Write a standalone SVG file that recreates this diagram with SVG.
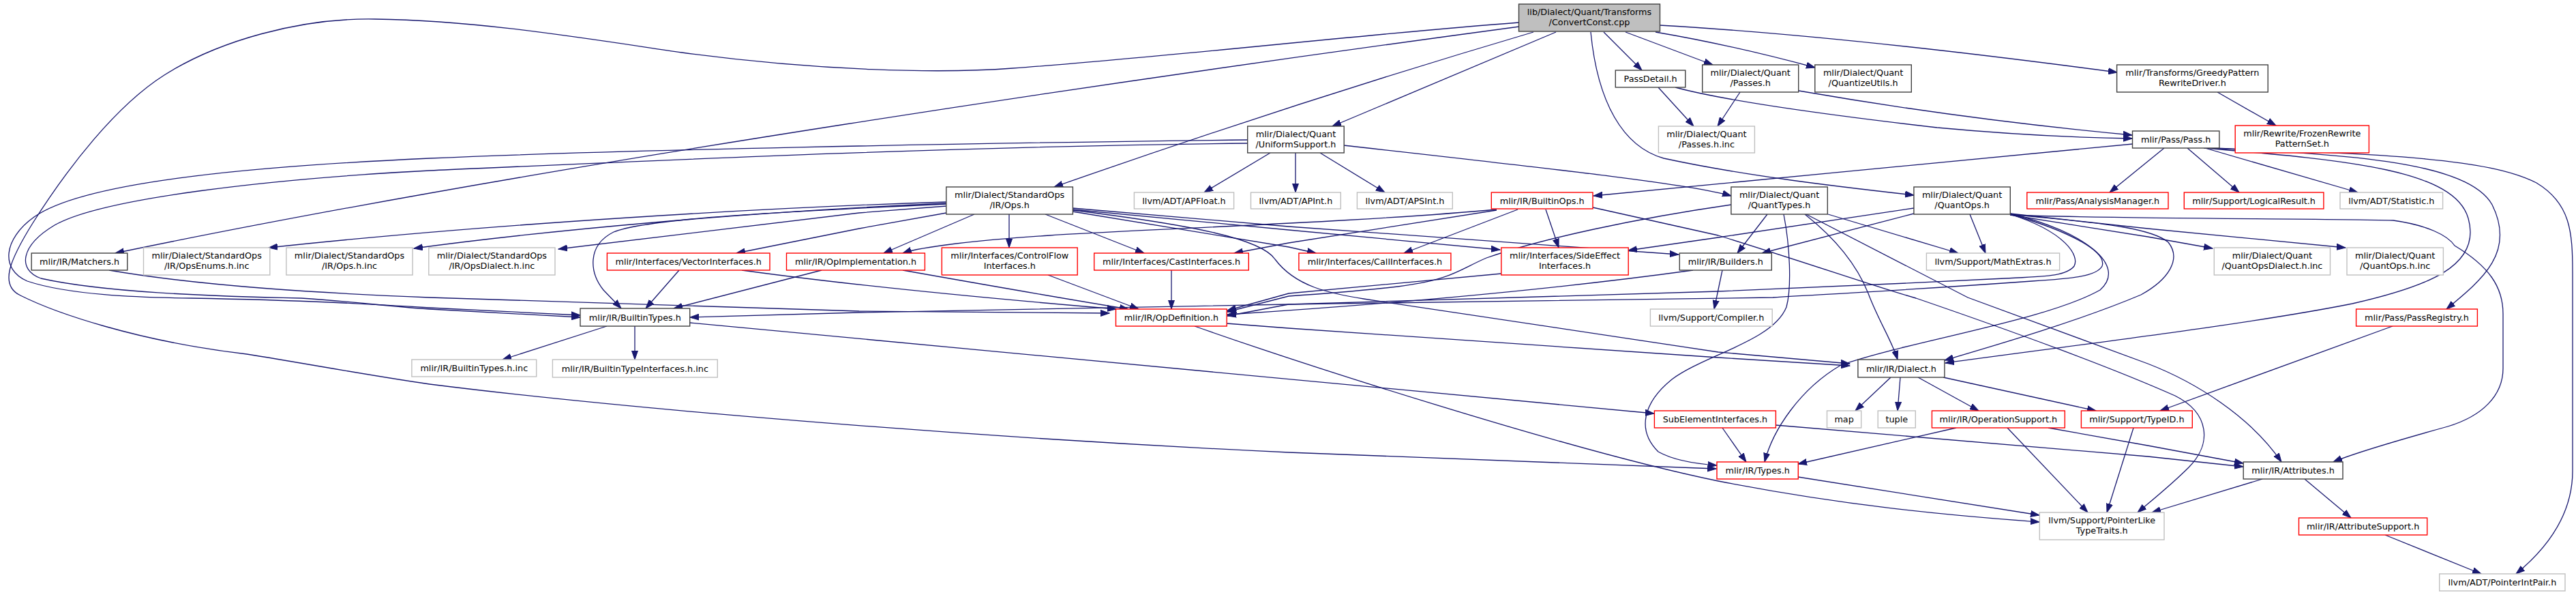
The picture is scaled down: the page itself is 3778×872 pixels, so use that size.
<svg xmlns="http://www.w3.org/2000/svg" width="3778" height="872" viewBox="0 0 3778 872">
<defs>
<marker id="a" markerUnits="userSpaceOnUse" markerWidth="14" markerHeight="10" refX="13" refY="5" orient="auto">
<path d="M0,0.5 L13,5 L0,9.5 z" fill="#191970" stroke="#191970" stroke-width="1"/>
</marker>
<style>
.n rect{fill:#ffffff;stroke-width:1.4}
.doc rect{stroke:#404040}
.und rect{stroke:#bfbfbf}
.trn rect{stroke:#ff0000}
.root rect{fill:#bfbfbf;stroke:#404040}
.n text{font-family:"DejaVu Sans","Liberation Sans",sans-serif;font-size:12.8px;fill:#000000;text-anchor:middle}
#edges path{fill:none;stroke:#191970;stroke-width:1.3;marker-end:url(#a)}
</style>
</defs>
<rect width="3778" height="872" fill="#ffffff"/>
<g id="edges">
<path d="M2228,39 C1700,110 800,240 169,371"/>
<path d="M2228,33 C2000,50 1700,85 1485,100 C1380,108 1200,104 1000,77 C850,55 700,30 550,28 C440,26 320,60 241,110 C170,155 100,245 48,327 C15,380 -2,418 30,433 C80,458 200,500 362,519 C450,533 540,550 630,563 C900,597 1400,640 1890,663 L2517,687"/>
<path d="M2249,47 Q1900,150 1546,274"/>
<path d="M2282,47 L1954,185"/>
<path d="M2333,47 C2343,150 2380,215 2440,232 C2560,258 2700,274 2807,286"/>
<path d="M2352,47 L2408,103"/>
<path d="M2384,47 L2512,95"/>
<path d="M2428,47 Q2540,66 2662,99"/>
<path d="M2434,37 Q2700,52 3105,106"/>
<path d="M2552,135 L2519,185"/>
<path d="M2638,133 Q2880,175 3127,198"/>
<path d="M2432,128 L2484,185"/>
<path d="M2457,128 C2520,145 2650,165 2841,187 C2960,198 3060,202 3127,203"/>
<path d="M3252,135 L3338,184"/>
<path d="M3128,211 L2337,287"/>
<path d="M3174,217 L3094,282"/>
<path d="M3208,217 L3284,282"/>
<path d="M3234,217 L3458,282"/>
<path d="M3232,217 C3450,235 3600,250 3620,320 C3640,390 3560,420 3450,445 C3300,475 3050,505 2853,532"/>
<path d="M3238,217 C3450,226 3620,238 3655,300 C3690,370 3640,410 3588,453"/>
<path d="M3242,217 C3500,226 3650,232 3720,268 C3770,298 3773,340 3773,400 L3773,690 C3773,750 3740,800 3690,841"/>
<path d="M1863,224 L1766,282"/>
<path d="M1900,224 L1900,282"/>
<path d="M1936,224 L2031,282"/>
<path d="M1971,213 C2300,250 2480,270 2539,287"/>
<path d="M1830,205 C1400,210 900,220 630,232 C350,245 120,268 50,318 C5,350 0,395 40,412 C100,432 200,436 281,437 C450,440 550,446 630,451 L851,462"/>
<path d="M1830,210 C1400,214 900,238 630,250 C400,262 150,290 80,330 C30,360 25,395 60,408 C150,428 300,434 442,437 C520,442 580,450 630,453 L851,465"/>
<path d="M160,396 C300,420 480,430 630,436 C900,444 1100,452 1260,456 L1627,459"/>
<path d="M1388,296 C1100,305 700,330 394,363"/>
<path d="M1388,298 C1100,310 800,338 607,364"/>
<path d="M1388,302 L1260,312 L819,365"/>
<path d="M1388,312 L1260,335 L1080,371"/>
<path d="M1388,299 C1150,310 950,320 900,340 C860,360 865,400 885,425 L911,452"/>
<path d="M1429,314 L1296,371"/>
<path d="M1480,314 L1480,363"/>
<path d="M1533,314 L1678,371"/>
<path d="M1573,305 L1890,332 L2462,373"/>
<path d="M1573,307 L1890,337 L2200,366"/>
<path d="M1573,310 L1890,362 L1930,371"/>
<path d="M1573,308 C1750,330 1850,350 1870,380 C1900,420 1950,430 2000,438 L2520,516 L2713,533"/>
<path d="M2195,307 C2000,325 1700,335 1540,345 C1430,352 1350,362 1324,371"/>
<path d="M2195,308 L1890,356 L1810,371"/>
<path d="M2226,307 L2059,371"/>
<path d="M2267,307 L2286,363"/>
<path d="M2336,304 L2520,345 C2650,385 2750,420 2810,437 C2950,485 3100,540 3190,580 C3240,605 3245,650 3210,685 C3185,710 3160,730 3135,751"/>
<path d="M2807,305 L2520,348 L2388,367"/>
<path d="M2807,313 L2584,371"/>
<path d="M2592,314 L2548,371"/>
<path d="M2681,314 L2872,371"/>
<path d="M2889,314 L2912,371"/>
<path d="M2647,314 C2680,340 2720,380 2740,430 C2755,470 2775,500 2783,527"/>
<path d="M2649,314 L2886,436 L3150,533 C3220,560 3300,610 3346,677"/>
<path d="M2616,314 C2625,360 2628,420 2620,450 C2600,500 2500,520 2452,556 C2410,590 2400,630 2432,662 C2455,675 2490,680 2518,682"/>
<path d="M2539,300 C2400,320 2260,350 2180,378 C2140,395 2130,410 2050,420 C1980,428 1920,432 1890,434 L1800,457"/>
<path d="M2948,313 L3150,335 L3440,363"/>
<path d="M2948,315 L3150,347 L3245,364"/>
<path d="M2948,315 C3100,321 3400,320 3510,323 C3560,330 3590,345 3600,360 C3650,390 3671,420 3671,460 L3671,540 C3671,580 3640,610 3590,625 C3500,650 3450,665 3422,677"/>
<path d="M2948,314 C3050,325 3150,330 3180,355 C3200,380 3180,410 3140,432 C3050,470 2930,505 2852,528"/>
<path d="M2948,313 C3060,340 3120,390 3080,425 C3000,470 2800,500 2700,535 C2640,570 2600,630 2588,677"/>
<path d="M2948,314 C3040,340 3090,370 3083,390 C3075,405 3040,408 2980,412 C2800,425 2700,430 2600,436 L1890,446 L1260,458 L1012,465"/>
<path d="M2948,314 C3030,340 3050,375 3042,390 C3030,405 3000,405 2940,408 C2800,415 2650,422 2520,427 L1890,446 L1800,463"/>
<path d="M2202,401 L1890,430 L1800,455"/>
<path d="M2483,396 Q2200,435 1800,461"/>
<path d="M2526,396 L2514,453"/>
<path d="M996,396 L947,452"/>
<path d="M1205,396 L988,452"/>
<path d="M1324,396 Q1550,436 1655,453"/>
<path d="M1088,396 Q1300,425 1637,453"/>
<path d="M1537,403 L1670,453"/>
<path d="M1718,396 L1718,453"/>
<path d="M890,478 L737,527"/>
<path d="M931,478 L931,527"/>
<path d="M1012,473 L2426,606"/>
<path d="M1799,474 L1890,481 L2520,524 L2713,536"/>
<path d="M1752,478 C1900,530 2300,660 2520,705 C2700,740 2850,755 2991,765"/>
<path d="M2773,553 L2721,602"/>
<path d="M2787,553 L2783,602"/>
<path d="M2813,553 L2902,602"/>
<path d="M2850,553 L3074,602"/>
<path d="M2526,627 L2561,677"/>
<path d="M2604,623 L3150,669 L3290,684"/>
<path d="M2869,627 L2637,680"/>
<path d="M2944,627 L3062,751"/>
<path d="M3004,627 L3150,653 L3290,679"/>
<path d="M3129,627 L3090,751"/>
<path d="M3509,478 L3168,602"/>
<path d="M2637,699 L2991,755"/>
<path d="M3318,702 L3156,751"/>
<path d="M3380,702 L3448,759"/>
<path d="M3498,784 L3639,841"/>
</g>
<g id="root" class="n root"><rect x="2227.5" y="6" width="207" height="40"/><text x="2331" y="22">lib/Dialect/Quant/Transforms</text><text x="2331" y="36.5">/ConvertConst.cpp</text></g>
<g id="passdetail" class="n doc"><rect x="2369.3" y="103" width="102.5" height="25"/><text x="2420.6" y="120">PassDetail.h</text></g>
<g id="passes" class="n doc"><rect x="2496.7" y="95" width="141" height="40"/><text x="2567.2" y="111">mlir/Dialect/Quant</text><text x="2567.2" y="125.5">/Passes.h</text></g>
<g id="quantizeutils" class="n doc"><rect x="2661.8" y="95" width="141.5" height="40"/><text x="2732.6" y="111">mlir/Dialect/Quant</text><text x="2732.6" y="125.5">/QuantizeUtils.h</text></g>
<g id="greedy" class="n doc"><rect x="3104.6" y="95" width="221.6" height="40"/><text x="3215.4" y="111">mlir/Transforms/GreedyPattern</text><text x="3215.4" y="125.5">RewriteDriver.h</text></g>
<g id="uniform" class="n doc"><rect x="1829.7" y="185" width="141.5" height="39"/><text x="1900.5" y="201">mlir/Dialect/Quant</text><text x="1900.5" y="215.5">/UniformSupport.h</text></g>
<g id="passesinc" class="n und"><rect x="2432.4" y="185" width="141" height="39"/><text x="2502.9" y="201">mlir/Dialect/Quant</text><text x="2502.9" y="215.5">/Passes.h.inc</text></g>
<g id="passh" class="n doc"><rect x="3127.5" y="192" width="127.4" height="25"/><text x="3191.2" y="209">mlir/Pass/Pass.h</text></g>
<g id="frozen" class="n trn"><rect x="3278.2" y="184" width="196.2" height="40"/><text x="3376.3" y="200">mlir/Rewrite/FrozenRewrite</text><text x="3376.3" y="214.5">PatternSet.h</text></g>
<g id="stdops" class="n doc"><rect x="1387.8" y="274" width="185.6" height="40"/><text x="1480.6" y="290">mlir/Dialect/StandardOps</text><text x="1480.6" y="304.5">/IR/Ops.h</text></g>
<g id="apfloat" class="n und"><rect x="1663.4" y="282" width="146.2" height="24"/><text x="1736.5" y="298.5">llvm/ADT/APFloat.h</text></g>
<g id="apint" class="n und"><rect x="1834.5" y="282" width="131.8" height="24"/><text x="1900.4" y="298.5">llvm/ADT/APInt.h</text></g>
<g id="apsint" class="n und"><rect x="1990.4" y="282" width="139.9" height="24"/><text x="2060.4" y="298.5">llvm/ADT/APSInt.h</text></g>
<g id="builtinops" class="n trn"><rect x="2187.3" y="282" width="148.7" height="24"/><text x="2261.7" y="298.5">mlir/IR/BuiltinOps.h</text></g>
<g id="quanttypes" class="n doc"><rect x="2538.9" y="274" width="141.4" height="40"/><text x="2609.6" y="290">mlir/Dialect/Quant</text><text x="2609.6" y="304.5">/QuantTypes.h</text></g>
<g id="quantops" class="n doc"><rect x="2806.9" y="274" width="141.4" height="40"/><text x="2877.6" y="290">mlir/Dialect/Quant</text><text x="2877.6" y="304.5">/QuantOps.h</text></g>
<g id="analysis" class="n trn"><rect x="2972.8" y="282" width="207.2" height="24"/><text x="3076.4" y="298.5">mlir/Pass/AnalysisManager.h</text></g>
<g id="logical" class="n trn"><rect x="3203.3" y="282" width="204.6" height="24"/><text x="3305.6" y="298.5">mlir/Support/LogicalResult.h</text></g>
<g id="statistic" class="n und"><rect x="3432" y="282" width="150.6" height="24"/><text x="3507.3" y="298.5">llvm/ADT/Statistic.h</text></g>
<g id="matchers" class="n doc"><rect x="46.2" y="371" width="140.6" height="25"/><text x="116.5" y="388">mlir/IR/Matchers.h</text></g>
<g id="opsenums" class="n und"><rect x="210.5" y="363" width="185.3" height="40"/><text x="303.2" y="379">mlir/Dialect/StandardOps</text><text x="303.2" y="393.5">/IR/OpsEnums.h.inc</text></g>
<g id="opsinc" class="n und"><rect x="419.9" y="363" width="185.2" height="40"/><text x="512.5" y="379">mlir/Dialect/StandardOps</text><text x="512.5" y="393.5">/IR/Ops.h.inc</text></g>
<g id="opsdialect" class="n und"><rect x="628.8" y="363" width="185.2" height="40"/><text x="721.4" y="379">mlir/Dialect/StandardOps</text><text x="721.4" y="393.5">/IR/OpsDialect.h.inc</text></g>
<g id="vector" class="n trn"><rect x="890.4" y="371" width="238.6" height="25"/><text x="1009.7" y="388">mlir/Interfaces/VectorInterfaces.h</text></g>
<g id="opimpl" class="n trn"><rect x="1153.5" y="371" width="202.9" height="25"/><text x="1255" y="388">mlir/IR/OpImplementation.h</text></g>
<g id="controlflow" class="n trn"><rect x="1381.3" y="363" width="198.9" height="40"/><text x="1480.8" y="379">mlir/Interfaces/ControlFlow</text><text x="1480.8" y="393.5">Interfaces.h</text></g>
<g id="cast" class="n trn"><rect x="1604.7" y="371" width="226.6" height="25"/><text x="1718" y="388">mlir/Interfaces/CastInterfaces.h</text></g>
<g id="call" class="n trn"><rect x="1904.9" y="371" width="223" height="25"/><text x="2016.4" y="388">mlir/Interfaces/CallInterfaces.h</text></g>
<g id="sideeffect" class="n trn"><rect x="2201.8" y="363" width="186.4" height="40"/><text x="2295" y="379">mlir/Interfaces/SideEffect</text><text x="2295" y="393.5">Interfaces.h</text></g>
<g id="builders" class="n doc"><rect x="2463.3" y="371" width="135" height="25"/><text x="2530.8" y="388">mlir/IR/Builders.h</text></g>
<g id="mathextras" class="n und"><rect x="2825.4" y="371" width="195.2" height="25"/><text x="2923" y="388">llvm/Support/MathExtras.h</text></g>
<g id="qopsdialect" class="n und"><rect x="3247.3" y="363" width="170.2" height="40"/><text x="3332.4" y="379">mlir/Dialect/Quant</text><text x="3332.4" y="393.5">/QuantOpsDialect.h.inc</text></g>
<g id="qopsinc" class="n und"><rect x="3442" y="363" width="141.4" height="40"/><text x="3512.7" y="379">mlir/Dialect/Quant</text><text x="3512.7" y="393.5">/QuantOps.h.inc</text></g>
<g id="builtintypes" class="n doc"><rect x="851" y="452" width="160.7" height="26"/><text x="931.4" y="469.5">mlir/IR/BuiltinTypes.h</text></g>
<g id="opdef" class="n trn"><rect x="1636.5" y="453" width="162.7" height="25"/><text x="1717.9" y="470">mlir/IR/OpDefinition.h</text></g>
<g id="compiler" class="n und"><rect x="2420.4" y="453" width="178.8" height="25"/><text x="2509.8" y="470">llvm/Support/Compiler.h</text></g>
<g id="passregistry" class="n trn"><rect x="3455.6" y="453" width="177.8" height="25"/><text x="3544.5" y="470">mlir/Pass/PassRegistry.h</text></g>
<g id="builtintypesinc" class="n und"><rect x="603.9" y="527" width="182.8" height="25"/><text x="695.3" y="544">mlir/IR/BuiltinTypes.h.inc</text></g>
<g id="typeifaceinc" class="n und"><rect x="810.4" y="527" width="241.9" height="26"/><text x="931.4" y="544.5">mlir/IR/BuiltinTypeInterfaces.h.inc</text></g>
<g id="dialect" class="n doc"><rect x="2724.9" y="527" width="127" height="26"/><text x="2788.4" y="544.5">mlir/IR/Dialect.h</text></g>
<g id="map" class="n und"><rect x="2679.5" y="602" width="50.2" height="25"/><text x="2704.6" y="619">map</text></g>
<g id="tuple" class="n und"><rect x="2754.2" y="602" width="55.1" height="25"/><text x="2781.8" y="619">tuple</text></g>
<g id="subelement" class="n trn"><rect x="2426.4" y="602" width="178" height="25"/><text x="2515.4" y="619">SubElementInterfaces.h</text></g>
<g id="opsupport" class="n trn"><rect x="2833.4" y="602" width="194.9" height="25"/><text x="2930.9" y="619">mlir/IR/OperationSupport.h</text></g>
<g id="typeid" class="n trn"><rect x="3052.4" y="602" width="162.9" height="25"/><text x="3133.9" y="619">mlir/Support/TypeID.h</text></g>
<g id="types" class="n trn"><rect x="2518" y="677" width="119.3" height="25"/><text x="2577.7" y="694">mlir/IR/Types.h</text></g>
<g id="attributes" class="n doc"><rect x="3290.2" y="677" width="145.8" height="25"/><text x="3363.1" y="694">mlir/IR/Attributes.h</text></g>
<g id="pointerlike" class="n und"><rect x="2991.3" y="751" width="182.7" height="40"/><text x="3082.7" y="767">llvm/Support/PointerLike</text><text x="3082.7" y="781.5">TypeTraits.h</text></g>
<g id="attrsupport" class="n trn"><rect x="3371.5" y="759" width="188.2" height="25"/><text x="3465.6" y="776">mlir/IR/AttributeSupport.h</text></g>
<g id="pointerintpair" class="n und"><rect x="3577.7" y="841" width="184.3" height="25"/><text x="3669.9" y="858">llvm/ADT/PointerIntPair.h</text></g>
</svg>
